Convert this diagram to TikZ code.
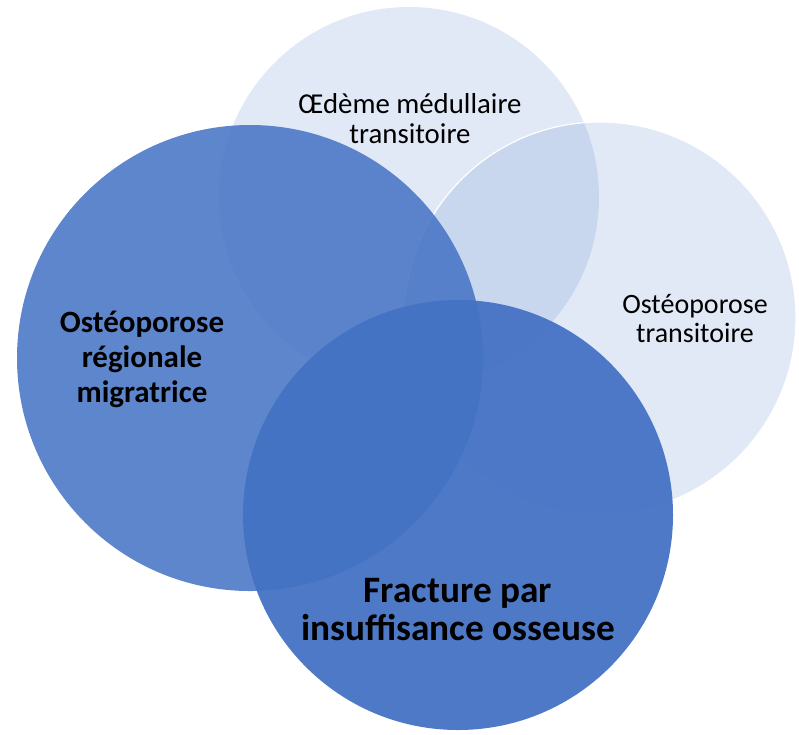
\documentclass[tikz,border=0pt]{standalone}
\usepackage{fontspec}
\setmainfont{Carlito}
\definecolor{accent}{RGB}{68,114,196}

\begin{document}
\begin{tikzpicture}[x=1pt,y=-1pt,
    pale/.style={fill=accent,fill opacity=0.16},
    deep/.style={fill=accent,fill opacity=0.86},
    label/.style={align=center,anchor=base,text=black,text opacity=1,inner sep=0pt}]
    \useasboundingbox (0,0) rectangle (799,734);
    \clip (0,0) rectangle (799,734);

    \fill[pale] (409,197) circle[radius=190pt];
    \draw[pale,draw=white,line width=1.2pt] (600,318) circle[radius=196pt];
    \fill[deep] (250,358) circle[radius=233pt];
    \fill[deep,fill opacity=0.95] (458,515) circle[radius=215pt];

    \node[label,font=\fontsize{28.8}{30}\selectfont] (oedeme) at (410,143) {Œdème médullaire\\transitoire};
    \node[label,font=\fontsize{28}{29}\selectfont] (transitoire) at (695,342) {Ostéoporose\\transitoire};
    \node[label,font=\bfseries\fontsize{31}{35}\selectfont] (migratrice) at (142,402) {Ostéoporose\\régionale\\migratrice};
    \node[label,font=\bfseries\fontsize{37.3}{38}\selectfont] (fracture) at (458,640) {Fracture par\\insuffisance osseuse};

  \end{tikzpicture}
\end{document}
